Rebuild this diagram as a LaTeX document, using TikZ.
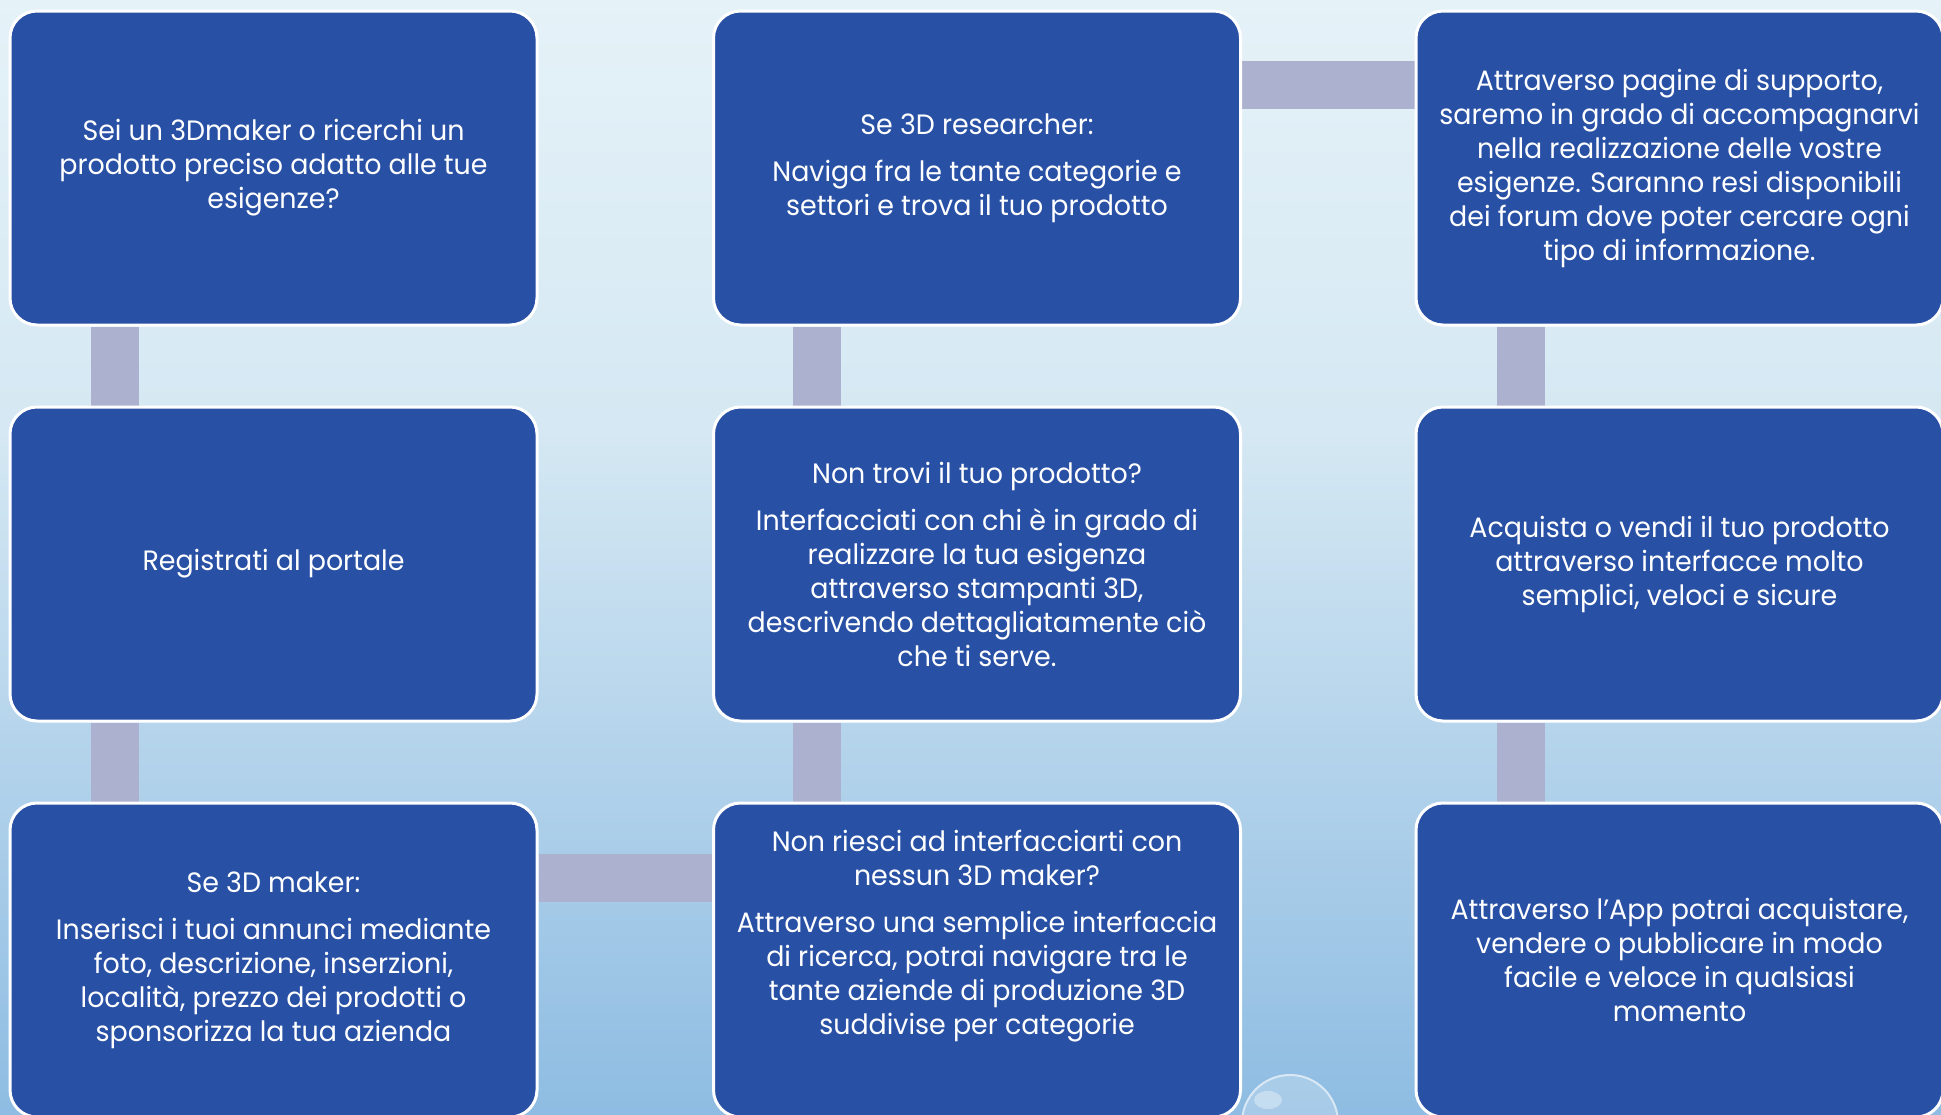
\documentclass[tikz,border=0pt]{standalone}
\usepackage{fontspec}
\setmainfont{Poppins}[FakeStretch=0.96]
\usetikzlibrary{calc}
\definecolor{boxblue}{HTML}{2850A5}
\definecolor{connc}{HTML}{ADB1D0}
\definecolor{bgtop}{HTML}{E5F2F8}
\definecolor{bgmid}{HTML}{D5E8F3}
\definecolor{bgbot}{HTML}{8EBCE2}
\pgfdeclarelayer{bglayer}
\pgfdeclarelayer{connlayer}
\pgfsetlayers{bglayer,connlayer,main}
\tikzset{
  box/.style={draw=white, line width=3pt, fill=boxblue, rounded corners=27pt,
    minimum width=527pt, minimum height=314pt, inner sep=0pt, text=white,
    align=center, font=\fontsize{28}{34}\selectfont},
  txt/.style={text=white, align=center, inner sep=0pt, font=\fontsize{28}{34}\selectfont},
  conn/.style={draw=connc, line width=48pt}
}
\begin{document}
\begin{tikzpicture}[x=1pt,y=-1pt]
\useasboundingbox (0,0) rectangle (1941,1114);
\begin{pgfonlayer}{bglayer}
\shade[top color=bgtop, bottom color=bgmid] (0,0) rectangle (1941,431);
\shade[top color=bgmid, bottom color=bgbot] (0,430) rectangle (1941,1114);
\end{pgfonlayer}
% column 1
\node[box] (b11) at (273.5,168) {Sei un 3Dmaker o ricerchi un\\prodotto preciso adatto alle tue\\esigenze?};
\node[box] (b12) at (273.5,564) {Registrati al portale};
\node[box] (b13) at (273.5,960) {Se 3D maker:\\[13pt]Inserisci i tuoi annunci mediante\\foto, descrizione, inserzioni,\\località, prezzo dei prodotti o\\sponsorizza la tua azienda};
% column 2
\node[box] (b21) at (977,168) {Se 3D researcher:\\[13pt]Naviga fra le tante categorie e\\settori e trova il tuo prodotto};
\node[box] (b22) at (977,564) {Non trovi il tuo prodotto?\\[13pt]Interfacciati con chi è in grado di\\realizzare la tua esigenza\\attraverso stampanti 3D,\\descrivendo dettagliatamente ciò\\che ti serve.};
\node[box] (b23) at (977,960) {};
\node[txt] (t23) at (977,936) {Non riesci ad interfacciarti con\\nessun 3D maker?\\[13pt]Attraverso una semplice interfaccia\\di ricerca, potrai navigare tra le\\tante aziende di produzione 3D\\suddivise per categorie};
% column 3
\node[box] (b31) at (1679.5,168) {Attraverso pagine di supporto,\\saremo in grado di accompagnarvi\\nella realizzazione delle vostre\\esigenze. Saranno resi disponibili\\dei forum dove poter cercare ogni\\tipo di informazione.};
\node[box] (b32) at (1679.5,564) {Acquista o vendi il tuo prodotto\\attraverso interfacce molto\\semplici, veloci e sicure};
\node[box] (b33) at (1679.5,960) {Attraverso l’App potrai acquistare,\\vendere o pubblicare in modo\\facile e veloce in qualsiasi\\momento};
% connectors
\begin{pgfonlayer}{connlayer}
\draw[conn] ($(b11.south west)+(106,0)$) -- ($(b12.north west)+(106,0)$);
\draw[conn] ($(b12.south west)+(106,0)$) -- ($(b13.north west)+(106,0)$);
\draw[conn] ($(b13.north east)+(0,76)$) -- ($(b23.north west)+(0,76)$);
\draw[conn] ($(b23.north west)+(105,0)$) -- ($(b22.south west)+(105,0)$);
\draw[conn] ($(b22.north west)+(105,0)$) -- ($(b21.south west)+(105,0)$);
\draw[conn] ($(b21.north east)+(0,75)$) -- ($(b31.north west)+(0,75)$);
\draw[conn] ($(b31.south west)+(106,0)$) -- ($(b32.north west)+(106,0)$);
\draw[conn] ($(b32.south west)+(106,0)$) -- ($(b33.north west)+(106,0)$);
\end{pgfonlayer}
% bubble
\coordinate (bc) at (1290,1123);
\fill[white, opacity=0.22] (bc) circle (49);
\draw[white, opacity=0.55, line width=2pt] (bc) circle (48);
\fill[white, opacity=0.35] (1268,1100) ellipse (14 and 9);
\end{tikzpicture}
\end{document}
